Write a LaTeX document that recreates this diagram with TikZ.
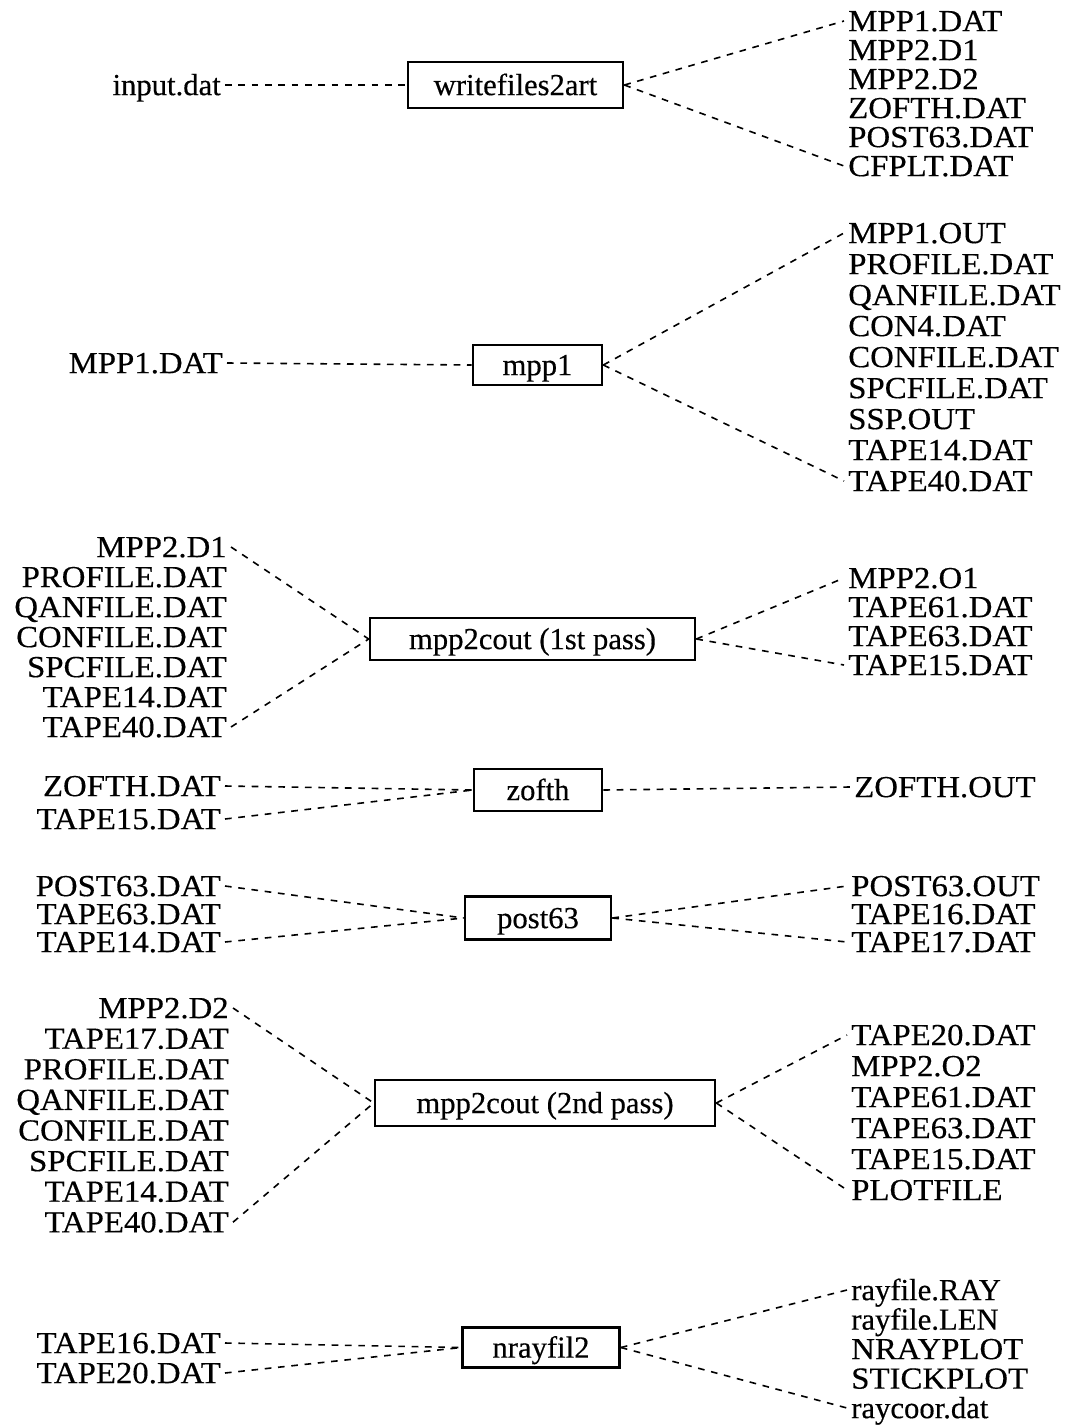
\documentclass[tikz,border=0pt]{standalone}
\usepackage{fontspec}
\setmainfont{Liberation Serif}[FakeBold=0.4]
\newfontfamily\capsfont{Liberation Serif}[FakeStretch=1.07,FakeBold=0.4]
\begin{document}
\begin{tikzpicture}[x=0.75pt,y=-0.75pt,
  every node/.style={font=\fontsize{23}{28}\selectfont, text height=18.4pt, text depth=3.2pt},
  fl/.style={inner ysep=0pt, inner xsep=3pt, anchor=west},
  fr/.style={inner ysep=0pt, inner xsep=3pt, anchor=east},
  cf/.style={font=\fontsize{23}{28}\capsfont},
  proc/.style={draw, line width=2pt, inner sep=0pt},
  link/.style={line width=1.2pt, dash pattern=on 5pt off 5pt}]
\useasboundingbox (0,0) rectangle (1067,1425);

% ---- group 1: writefiles2art
\node[proc, minimum width=161.25pt, minimum height=34.5pt] (b1) at (515.5,85) {writefiles2art};
\node[fr] (a1) at (225,85) {input.dat};
\node[fl,cf] (o11) at (844,21) {MPP1.DAT};
\node[fl,cf] (o12) at (844,50) {MPP2.D1};
\node[fl,cf] (o13) at (844,79) {MPP2.D2};
\node[fl,cf] (o14) at (844,108) {ZOFTH.DAT};
\node[fl,cf] (o15) at (844,137) {POST63.DAT};
\node[fl,cf] (o16) at (844,166) {CFPLT.DAT};
\draw[link] (a1.east) -- (b1.west);
\draw[link] (b1.east) -- (o11.west);
\draw[link] (b1.east) -- (o16.west);

% ---- group 2: mpp1
\node[proc, minimum width=96.75pt, minimum height=30pt] (b2) at (537.5,365) {mpp1};
\node[fr,cf] (a2) at (227,363) {MPP1.DAT};
\node[fl,cf] (o21) at (844,233) {MPP1.OUT};
\node[fl,cf] (o22) at (844,264) {PROFILE.DAT};
\node[fl,cf] (o23) at (844,295) {QANFILE.DAT};
\node[fl,cf] (o24) at (844,326) {CON4.DAT};
\node[fl,cf] (o25) at (844,357) {CONFILE.DAT};
\node[fl,cf] (o26) at (844,388) {SPCFILE.DAT};
\node[fl,cf] (o27) at (844,419) {SSP.OUT};
\node[fl,cf] (o28) at (844,450) {TAPE14.DAT};
\node[fl,cf] (o29) at (844,481) {TAPE40.DAT};
\draw[link] (a2.east) -- (b2.west);
\draw[link] (b2.east) -- (o21.west);
\draw[link] (b2.east) -- (o29.west);

% ---- group 3: mpp2cout (1st pass)
\node[proc, minimum width=243.75pt, minimum height=31.5pt] (b3) at (532.5,639) {mpp2cout (1st pass)};
\node[fr,cf] (i31) at (231,547) {MPP2.D1};
\node[fr,cf] (i32) at (231,577) {PROFILE.DAT};
\node[fr,cf] (i33) at (231,607) {QANFILE.DAT};
\node[fr,cf] (i34) at (231,637) {CONFILE.DAT};
\node[fr,cf] (i35) at (231,667) {SPCFILE.DAT};
\node[fr,cf] (i36) at (231,697) {TAPE14.DAT};
\node[fr,cf] (i37) at (231,727) {TAPE40.DAT};
\node[fl,cf] (o31) at (844,578) {MPP2.O1};
\node[fl,cf] (o32) at (844,607) {TAPE61.DAT};
\node[fl,cf] (o33) at (844,636) {TAPE63.DAT};
\node[fl,cf] (o34) at (844,665) {TAPE15.DAT};
\draw[link] (i31.east) -- (b3.west);
\draw[link] (i37.east) -- (b3.west);
\draw[link] (b3.east) -- (o31.west);
\draw[link] (b3.east) -- (o34.west);

% ---- group 4: zofth
\node[proc, minimum width=96pt, minimum height=31.5pt] (b4) at (538,790) {zofth};
\node[fr,cf] (i41) at (225,786) {ZOFTH.DAT};
\node[fr,cf] (i42) at (225,819) {TAPE15.DAT};
\node[fl,cf] (o41) at (850,787) {ZOFTH.OUT};
\draw[link] (i41.east) -- (b4.west);
\draw[link] (i42.east) -- (b4.west);
\draw[link] (b4.east) -- (o41.west);

% ---- group 5: post63
\node[proc, minimum width=109.5pt, minimum height=32.25pt] (b5) at (538,918) {post63};
\node[fr,cf] (i51) at (225,886) {POST63.DAT};
\node[fr,cf] (i52) at (225,914) {TAPE63.DAT};
\node[fr,cf] (i53) at (225,942) {TAPE14.DAT};
\node[fl,cf] (o51) at (847,886) {POST63.OUT};
\node[fl,cf] (o52) at (847,914) {TAPE16.DAT};
\node[fl,cf] (o53) at (847,942) {TAPE17.DAT};
\draw[link] (i51.east) -- (b5.west);
\draw[link] (i53.east) -- (b5.west);
\draw[link] (b5.east) -- (o51.west);
\draw[link] (b5.east) -- (o53.west);

% ---- group 6: mpp2cout (2nd pass)
\node[proc, minimum width=255pt, minimum height=34.5pt] (b6) at (545,1103) {mpp2cout (2nd pass)};
\node[fr,cf] (i61) at (233,1008) {MPP2.D2};
\node[fr,cf] (i62) at (233,1038.6) {TAPE17.DAT};
\node[fr,cf] (i63) at (233,1069.2) {PROFILE.DAT};
\node[fr,cf] (i64) at (233,1099.8) {QANFILE.DAT};
\node[fr,cf] (i65) at (233,1130.4) {CONFILE.DAT};
\node[fr,cf] (i66) at (233,1161) {SPCFILE.DAT};
\node[fr,cf] (i67) at (233,1191.6) {TAPE14.DAT};
\node[fr,cf] (i68) at (233,1222.2) {TAPE40.DAT};
\node[fl,cf] (o61) at (847,1035) {TAPE20.DAT};
\node[fl,cf] (o62) at (847,1066) {MPP2.O2};
\node[fl,cf] (o63) at (847,1097) {TAPE61.DAT};
\node[fl,cf] (o64) at (847,1128) {TAPE63.DAT};
\node[fl,cf] (o65) at (847,1159) {TAPE15.DAT};
\node[fl,cf] (o66) at (847,1190) {PLOTFILE};
\draw[link] (i61.east) -- (b6.west);
\draw[link] (i68.east) -- (b6.west);
\draw[link] (b6.east) -- (o61.west);
\draw[link] (b6.east) -- (o66.west);

% ---- group 7: nrayfil2
\node[proc, minimum width=117.75pt, minimum height=30pt] (b7) at (541,1347.5) {nrayfil2};
\node[fr,cf] (i71) at (225,1343) {TAPE16.DAT};
\node[fr,cf] (i72) at (225,1373) {TAPE20.DAT};
\node[fl] (o71) at (847,1290) {rayfile.RAY};
\node[fl] (o72) at (847,1319.5) {rayfile.LEN};
\node[fl,cf] (o73) at (847,1349) {NRAYPLOT};
\node[fl,cf] (o74) at (847,1378.5) {STICKPLOT};
\node[fl] (o75) at (847,1408) {raycoor.dat};
\draw[link] (i71.east) -- (b7.west);
\draw[link] (i72.east) -- (b7.west);
\draw[link] (b7.east) -- (o71.west);
\draw[link] (b7.east) -- (o75.west);
\end{tikzpicture}
\end{document}
